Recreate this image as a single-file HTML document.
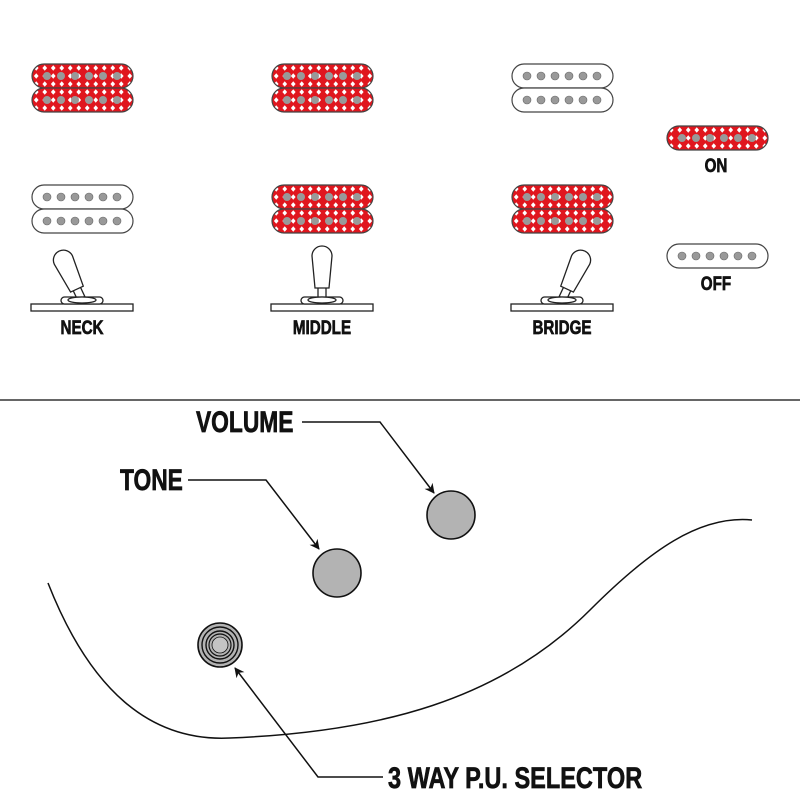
<!DOCTYPE html>
<html><head><meta charset="utf-8"><style>
html,body{margin:0;padding:0;background:#fff;}
svg{display:block;}
text{font-family:"Liberation Sans",sans-serif;font-weight:bold;fill:#111;stroke:#111;stroke-width:0.7;}
</style></head><body>
<svg width="800" height="800" viewBox="0 0 800 800" xmlns="http://www.w3.org/2000/svg">
<defs>
<pattern id="dia" width="8.5" height="8" patternUnits="userSpaceOnUse" x="34" y="64">
<rect width="8.5" height="8" fill="#e0161e"/>
<path d="M4.25,1.3 L6.6,4 L4.25,6.7 L1.9,4Z" fill="#fff"/>
</pattern>
<g id="red">
<rect x="0" y="0" width="101" height="24" rx="12" fill="url(#dia)" stroke="#444" stroke-width="1.2"/>
<g fill="#999"><circle cx="15" cy="12" r="4"/><circle cx="29" cy="12" r="4"/><circle cx="43" cy="12" r="4"/><circle cx="57" cy="12" r="4"/><circle cx="71" cy="12" r="4"/><circle cx="85" cy="12" r="4"/></g>
</g>
<g id="wht">
<rect x="0" y="0" width="101" height="24" rx="12" fill="#fff" stroke="#444" stroke-width="1.2"/>
<g fill="#999" stroke="#666" stroke-width="0.6"><circle cx="15" cy="12" r="4"/><circle cx="29" cy="12" r="4"/><circle cx="43" cy="12" r="4"/><circle cx="57" cy="12" r="4"/><circle cx="71" cy="12" r="4"/><circle cx="85" cy="12" r="4"/></g>
</g>
<g id="lever" fill="#fff" stroke="#222" stroke-width="1.3">
<rect x="-4" y="-14" width="8" height="12"/>
<path d="M-7,-12 L-10,-44 A10,10 0 0 1 10,-44 L7,-12 Z"/>
</g>
<g id="base" fill="#fff" stroke="#222" stroke-width="1.3">
<rect x="-51" y="4" width="102" height="7"/>
<rect x="-21" y="-3" width="42" height="7" rx="3.5"/>
<ellipse cx="0" cy="0" rx="14" ry="3"/>
</g>
<marker id="ar" markerWidth="10" markerHeight="10" refX="9" refY="5" orient="auto" markerUnits="userSpaceOnUse">
<path d="M0,0 L10,5 L0,10 L3,5Z" fill="#111"/>
</marker>
</defs>

<use href="#red" x="32" y="64"/><use href="#red" x="32" y="88"/>
<use href="#red" x="272" y="64"/><use href="#red" x="272" y="88"/>
<use href="#wht" x="512" y="64"/><use href="#wht" x="512" y="88"/>
<use href="#wht" x="32" y="185"/><use href="#wht" x="32" y="209"/>
<use href="#red" x="272" y="185"/><use href="#red" x="272" y="209"/>
<use href="#red" x="512" y="185"/><use href="#red" x="512" y="209"/>
<use href="#red" x="667" y="126"/>
<use href="#wht" x="667" y="244"/>

<g transform="translate(82,300)"><g transform="rotate(-25)"><use href="#lever"/></g><use href="#base"/></g>
<g transform="translate(322,300)"><use href="#lever"/><use href="#base"/></g>
<g transform="translate(562,300)"><g transform="rotate(25)"><use href="#lever"/></g><use href="#base"/></g>

<g font-size="19" text-anchor="middle">
<text x="82" y="334" transform="translate(82,0) scale(0.8,1) translate(-82,0)">NECK</text>
<text x="322" y="334" transform="translate(322,0) scale(0.8,1) translate(-322,0)">MIDDLE</text>
<text x="562" y="334" transform="translate(562,0) scale(0.8,1) translate(-562,0)">BRIDGE</text>
<text x="716" y="172" transform="translate(716,0) scale(0.8,1) translate(-716,0)">ON</text>
<text x="716" y="290" transform="translate(716,0) scale(0.8,1) translate(-716,0)">OFF</text>
</g>

<line x1="0" y1="400" x2="800" y2="400" stroke="#333" stroke-width="1.5"/>

<path d="M48,583 C90,690 150,742 230,738 C380,732 500,700 590,610 C650,550 700,515 752,520" fill="none" stroke="#111" stroke-width="1.5"/>

<circle cx="451" cy="515" r="24" fill="#b3b3b3" stroke="#111" stroke-width="1.6"/>
<circle cx="337" cy="573" r="24" fill="#b3b3b3" stroke="#111" stroke-width="1.6"/>
<g fill="none" stroke="#111">
<circle cx="220" cy="645" r="22" fill="#b3b3b3" stroke-width="1.6"/>
<circle cx="220" cy="645" r="18" stroke-width="1.4"/>
<circle cx="220" cy="645" r="14" stroke-width="1.4"/>
<circle cx="220" cy="645" r="11" stroke-width="1.2"/>
<circle cx="220" cy="645" r="8" fill="#c4c4c4" stroke-width="0.8"/>
</g>

<g fill="none" stroke="#111" stroke-width="1.5">
<polyline points="302,422 380,422 434,493" marker-end="url(#ar)"/>
<polyline points="188,480 266,480 319,549" marker-end="url(#ar)"/>
<polyline points="383,777 318,777 235,668" marker-end="url(#ar)"/>
</g>

<g font-size="30">
<text x="196" y="432" transform="translate(196,0) scale(0.76,1) translate(-196,0)">VOLUME</text>
<text x="120" y="490" transform="translate(120,0) scale(0.76,1) translate(-120,0)">TONE</text>
<text x="388" y="788" transform="translate(388,0) scale(0.785,1) translate(-388,0)">3 WAY P.U. SELECTOR</text>
</g>
</svg>
</body></html>
